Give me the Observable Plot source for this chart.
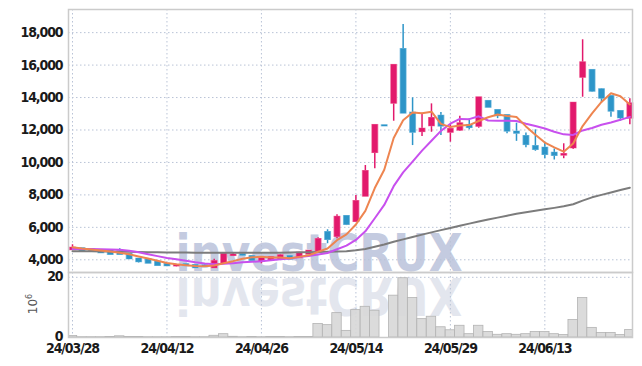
<!DOCTYPE html>
<html><head><meta charset="utf-8">
<script src="https://cdn.jsdelivr.net/npm/d3@7"></script>
<script src="https://cdn.jsdelivr.net/npm/@observablehq/plot@0.6"></script>
<style>
html,body{margin:0;padding:0;background:#fff;}
#wrap{position:relative;width:642px;height:366px;overflow:hidden;background:#fff;}
#wrap svg{position:absolute;left:0;}
#wrap svg text{letter-spacing:-1.1px;}
</style></head><body><div id="wrap"></div>
<script>
const dates = ["24/03/28","24/03/29","24/04/01","24/04/02","24/04/03","24/04/04","24/04/05","24/04/08","24/04/09","24/04/11",
"24/04/12","24/04/15","24/04/16","24/04/17","24/04/18","24/04/19","24/04/22","24/04/23","24/04/24","24/04/25",
"24/04/26","24/04/29","24/04/30","24/05/02","24/05/03","24/05/07","24/05/08","24/05/09","24/05/10","24/05/13",
"24/05/14","24/05/16","24/05/17","24/05/20","24/05/21","24/05/22","24/05/23","24/05/24","24/05/27","24/05/28",
"24/05/29","24/05/30","24/05/31","24/06/03","24/06/04","24/06/05","24/06/07","24/06/10","24/06/11","24/06/12",
"24/06/13","24/06/14","24/06/17","24/06/18","24/06/19","24/06/20","24/06/21","24/06/24","24/06/25","24/06/26"];
const open = [4620,4680,4620,4570,4530,4490,4330,4040,4000,3850,3710,3620,3700,3650,3630,3510,3790,4260,4310,4200,3900,4000,4060,4200,4120,4350,4530,5680,5440,6670,6360,7920,10610,12260,13650,16960,13040,11900,12260,12850,11860,11990,12280,12230,13760,13200,12890,11870,11600,10980,10880,10570,10450,10900,15250,15670,14480,14060,13140,12730];
const high = [4925,4700,4650,4590,4550,4680,4340,4050,4010,3860,3720,3720,3720,3660,3700,4040,4350,4400,4400,4220,4080,4160,4320,4220,4450,4560,5360,5850,6770,6730,7960,9810,12300,12260,15990,18500,13980,13030,13610,13080,12340,12840,12690,13990,13820,13240,12900,12420,11810,12010,11250,10830,11150,13660,17560,15710,14540,14130,13200,13920];
const low = [4600,4520,4520,4420,4310,4310,4040,3800,3780,3600,3600,3560,3600,3490,3540,3490,3780,4230,4240,3950,3750,3990,4050,4020,4100,4330,4520,4990,5290,6110,6350,7900,9610,12250,12540,13030,11040,11600,11860,11660,11250,11900,12010,12110,13390,12700,11770,11300,10900,10690,10230,10150,10230,10800,14020,14330,13680,12780,12540,12320];
const close = [4715,4530,4540,4430,4330,4330,4060,3880,3790,3650,3630,3650,3630,3510,3560,3890,4330,4290,4280,3960,4060,4140,4250,4040,4410,4530,5250,5250,6620,6180,7590,9440,12280,12250,15980,13040,11860,12050,12710,12240,12030,12380,12150,13980,13400,12880,11930,11800,11100,10800,10490,10430,10490,13650,16140,14390,13960,13160,12750,13610];
const volume = [0.5,0.1,0.1,0.1,0.15,0.4,0.2,0.2,0.1,0.1,0.1,0.15,0.15,0.1,0.1,0.57,1.1,0.23,0.1,0.2,0.1,0.2,0.2,0.1,0.2,0.2,4.5,4.1,8.1,2.2,9.1,10.2,8.9,0,13.9,19.7,13.1,6.1,6.9,3.4,2.4,3.9,1.1,3.9,1.8,0.9,1.1,0.9,1.1,1.8,1.8,1.1,0.8,5.8,13.1,3.2,1.5,1.5,0.8,2.5];
const ma5 = [4780,4700,4640,4570,4509,4432,4338,4206,4078,3942,3802,3720,3670,3614,3596,3648,3784,3916,4070,4150,4184,4146,4138,4090,4180,4274,4496,4696,5212,5566,6178,7016,8422,9548,11508,12598,13082,13036,13128,12380,12178,12282,12302,12556,12788,12958,12868,12798,12222,11702,11224,10924,10662,11172,12240,13020,13726,14260,14080,13574];
const ma10 = [4670,4665,4660,4650,4640,4620,4560,4460,4340,4226,4117,4029,3938,3846,3769,3725,3752,3793,3842,3873,3916,3965,4027,4080,4165,4229,4321,4417,4651,4873,5226,5756,6559,7380,8537,9388,10049,10729,11338,11944,12388,12682,12669,12842,12584,12568,12575,12550,12389,12245,12091,11896,11730,11697,11971,12122,12325,12461,12626,12807];
const ma60 = [4530,4525,4520,4515,4510,4500,4490,4480,4470,4460,4455,4450,4445,4440,4435,4430,4430,4430,4430,4430,4430,4435,4440,4450,4460,4470,4480,4495,4510,4530,4590,4670,4800,4940,5110,5260,5410,5550,5690,5830,5960,6100,6230,6360,6480,6600,6720,6840,6930,7020,7110,7200,7300,7420,7650,7850,8000,8150,8300,8440];
const priceTicks = [4000,6000,8000,10000,12000,14000,16000,18000];
const volumeTicks = [0,20];
const tickLabels = ["24/03/28","24/04/12","24/04/26","24/05/14","24/05/29","24/06/13"];

const FONT = '"DejaVu Sans Condensed","DejaVu Sans",sans-serif';
const UP = "#e2196c", UP_EDGE = "#f27aa6";
const DOWN = "#2d95c8", DOWN_EDGE = "#86c4e3";
const GRID = "#b9c3d6";
const rows = dates.map((d, i) => ({i, date: d, open: open[i], high: high[i], low: low[i], close: close[i],
  vol: volume[i], ma5: ma5[i], ma10: ma10[i], ma60: ma60[i], up: close[i] >= open[i]}));
const upRows = rows.filter(d => d.up), downRows = rows.filter(d => !d.up);
const tickIdx = tickLabels.map(t => dates.indexOf(t));
const xDomain = [-0.4235, 59.28];
const W = 642;
const wrap = document.getElementById("wrap");
const fmt = d3.format(",");

// watermark layer (behind the charts)
const ns = "http://www.w3.org/2000/svg";
const wm = document.createElementNS(ns, "svg");
wm.setAttribute("width", W); wm.setAttribute("height", 366); wm.style.top = "0px";
wm.innerHTML = `
<text x="319" y="271" text-anchor="middle" font-family="DejaVu Sans" font-weight="bold" font-size="52" textLength="287" lengthAdjust="spacingAndGlyphs" fill="#c4cbe0" style="letter-spacing:0">investCRUX</text>
<g transform="translate(0,549) scale(1,-1)"><text x="319" y="271" text-anchor="middle" font-family="DejaVu Sans" font-weight="bold" font-size="52" textLength="287" lengthAdjust="spacingAndGlyphs" fill="#e3e6ee" style="letter-spacing:0">investCRUX</text></g>
<text transform="translate(37,304) rotate(-90)" text-anchor="middle" font-family="DejaVu Sans" font-size="12" fill="#555" style="letter-spacing:0">10<tspan dy="-5" font-size="8">6</tspan></text>`;
wrap.appendChild(wm);

const dotted = {stroke: GRID, strokeOpacity: 1, strokeDasharray: "1.5,2.5", strokeWidth: 1};
const bodyMarks = (data, fillC, edgeC) => [
  Plot.ruleX(data, {x: "i", y1: "high", y2: "low", stroke: fillC, strokeWidth: 1.5}),
  Plot.ruleX(data, {x: "i", y1: d => Math.max(d.open, d.close), y2: d => Math.min(d.open, d.close), stroke: edgeC, strokeWidth: 7, insetTop: -1, insetBottom: -1}),
  Plot.ruleX(data, {x: "i", y1: d => Math.max(d.open, d.close), y2: d => Math.min(d.open, d.close), stroke: fillC, strokeWidth: 5.5, insetTop: -0.6, insetBottom: -0.6})
];

const price = Plot.plot({
  width: W, height: 273, marginTop: 9, marginBottom: 1, marginLeft: 68, marginRight: 10,
  style: {background: "transparent", fontFamily: FONT, fontSize: "14px", color: "#1a1a1a", overflow: "visible"},
  x: {domain: xDomain, axis: null},
  y: {domain: [3217, 19426], axis: null},
  marks: [
    Plot.ruleY(priceTicks, dotted),
    Plot.ruleX(tickIdx, dotted),
    Plot.axisY(priceTicks, {tickFormat: fmt, tickSize: 0, tickPadding: 6, fontWeight: "bold", fill: "#1a1a1a", label: null}),
    ...bodyMarks(upRows, UP, UP_EDGE),
    ...bodyMarks(downRows, DOWN, DOWN_EDGE),
    Plot.line(rows, {x: "i", y: "ma60", stroke: "#7c7c7c", strokeWidth: 2}),
    Plot.line(rows, {x: "i", y: "ma10", stroke: "#c850ee", strokeWidth: 2}),
    Plot.line(rows, {x: "i", y: "ma5", stroke: "#ee8550", strokeWidth: 2}),
    Plot.frame({stroke: "#cbcbcb", strokeWidth: 1.5})
  ]
});
price.style.top = "0px";
wrap.appendChild(price);

const vol = Plot.plot({
  width: W, height: 94, marginTop: 0, marginBottom: 29, marginLeft: 68, marginRight: 10,
  style: {background: "transparent", fontFamily: FONT, fontSize: "14px", color: "#1a1a1a", overflow: "visible"},
  x: {domain: xDomain, axis: null},
  y: {domain: [0, 21.6], axis: null},
  marks: [
    Plot.ruleY([20], dotted),
    Plot.ruleX(tickIdx, dotted),
    Plot.rectY(rows, {x1: d => d.i - 0.5, x2: d => d.i + 0.5, y: "vol", fill: "#d7d7d7", fillOpacity: 0.9, stroke: "#b3b3b3", strokeWidth: 0.8, clip: true}),
    Plot.axisY(volumeTicks, {tickSize: 0, tickPadding: 6, fontWeight: "bold", fill: "#1a1a1a", label: null, dy: -1}),
    Plot.axisX(tickIdx, {tickFormat: i => dates[i], tickSize: 0, tickPadding: 6, fontWeight: "bold", fill: "#1a1a1a", label: null}),
    Plot.frame({stroke: "#cbcbcb", strokeWidth: 1.5})
  ]
});
vol.style.top = "272px";
wrap.appendChild(vol);
</script></body></html>
